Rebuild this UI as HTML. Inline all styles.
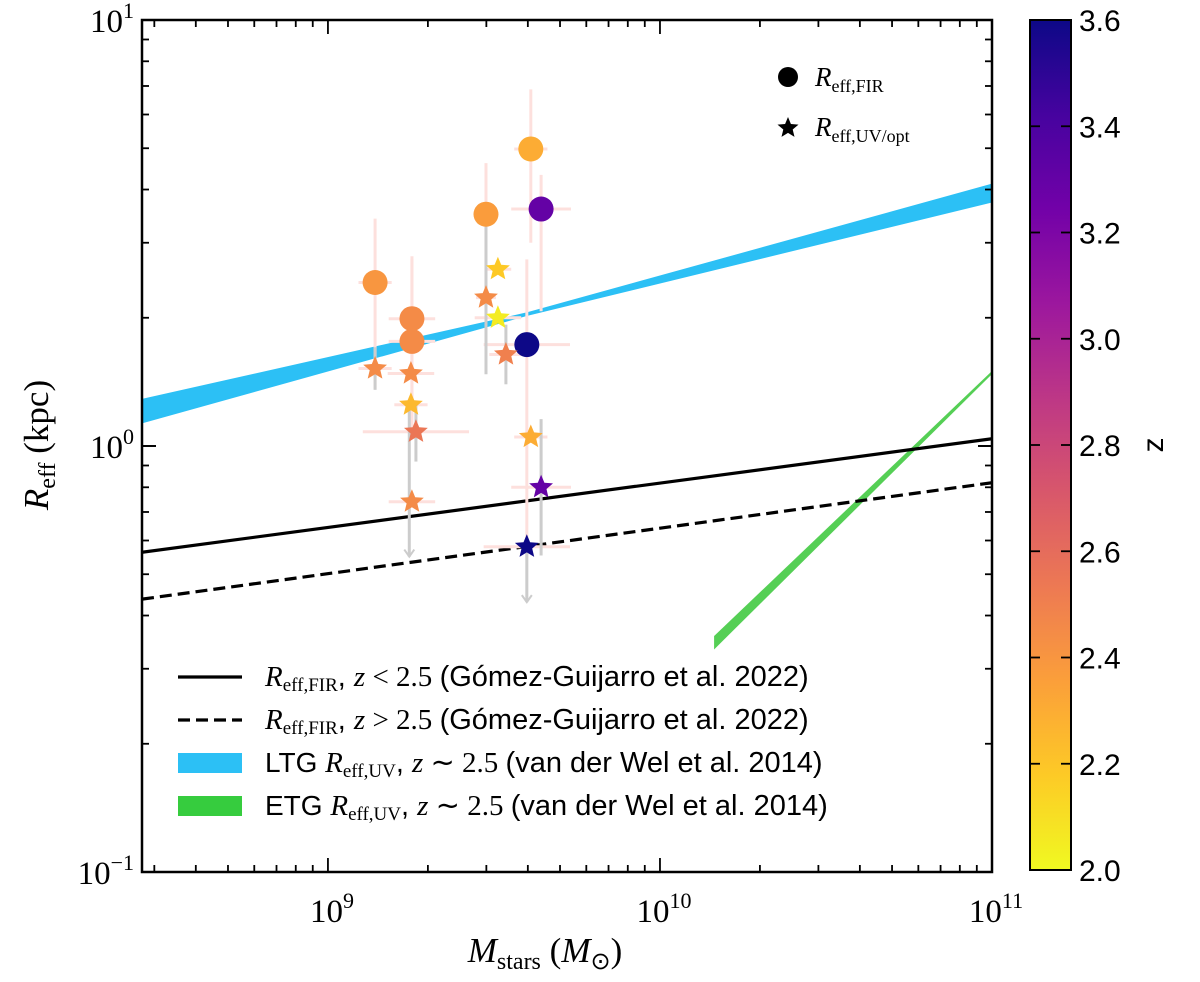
<!DOCTYPE html>
<html><head><meta charset="utf-8"><style>
body{margin:0;background:#fff;}
svg{display:block;}
.s{font-family:"Liberation Serif",serif;}
.a{font-family:"Liberation Sans",sans-serif;}
</style></head><body>
<svg id="c" width="1200" height="982" xmlns="http://www.w3.org/2000/svg"></svg>
<script>
// ---- data ----
const circleLogM = [9.142, 9.253, 9.253, 9.476, 9.611, 9.642, 9.599];
const circleR    = [2.42, 1.99, 1.76, 3.50, 4.98, 3.60, 1.73];
const circleZ    = [2.40, 2.45, 2.45, 2.37, 2.30, 3.30, 3.60];
const circleErrX = [0.05, 0.07, 0.07, 0.03, 0.05, 0.09, 0.13];
const circleErrLo= [0.25, 0.22, 0.22, 0.22, 0.22, 0.24, 0.50];
const circleErrHi= [0.15, 0.14, 0.20, 0.12, 0.14, 0.08, 0.20];
const starLogM = [9.142, 9.250, 9.250, 9.265, 9.253, 9.476, 9.512, 9.512, 9.536, 9.611, 9.642, 9.599];
const starR    = [1.52, 1.48, 1.25, 1.08, 0.74, 2.23, 2.60, 2.00, 1.64, 1.05, 0.80, 0.58];
const starZ    = [2.45, 2.45, 2.25, 2.55, 2.45, 2.45, 2.18, 2.05, 2.50, 2.30, 3.30, 3.60];
const starErrX = [0.05, 0.07, 0.05, 0.16, 0.07, 0.03, 0.04, 0.07, 0.05, 0.05, 0.09, 0.13];
const starLimit= [0.05, 0.00, 0.00, 0.07, 0.00, 0.18, 0.00, 0.00, 0.07, 0.00, 0.16, 0.00];
const arrowFrom= [0, 9.245, 0, 0, 0, 0, 0, 0, 0, 0, 0, 9.599];
const arrowTop = [0, 1.25, 0, 0, 0, 0, 0, 0, 0, 0, 0, 0.58];
const arrowBot = [0, 0.55, 0, 0, 0, 0, 0, 0, 0, 0, 0, 0.43];
const fitLogM = [8.44, 11];
const solidR  = [0.563, 1.04];
const dashR   = [0.437, 0.82];
const ltgLogM = [8.44, 9.6, 11];
const ltgLo   = [1.13, 2.02, 3.73];
const ltgHi   = [1.29, 2.06, 4.13];
const etgLogM = [10.163, 11];
const etgLo   = [0.333, 1.475];
const etgHi   = [0.358, 1.50];
const xTicks = [9, 10, 11];
const yTicks = [-1, 0, 1];
const cbTicks = [2.0, 2.2, 2.4, 2.6, 2.8, 3.0, 3.2, 3.4, 3.6];

// ---- axes ----
const L=142,R=992,T=20,B=872;
const xs=m=>L+(m-8.44)/(11-8.44)*(R-L);
const ys=r=>T+(1-Math.log10(r))/2*(B-T);
const NS="http://www.w3.org/2000/svg";
const svg=document.getElementById('c');
function el(t,a,p){const e=document.createElementNS(NS,t);for(const k in a)e.setAttribute(k,a[k]);(p||svg).appendChild(e);return e;}
const plasma=["#f0f921","#fdca26","#fb9f3a","#ed7953","#d8576b","#bd3786","#9c179e","#7201a8","#46039f","#0d0887"];
function zcol(z){let t=(z-2)/1.6*(plasma.length-1);t=Math.max(0,Math.min(plasma.length-1,t));const i=Math.floor(t),f=t-i;const a=plasma[i],b=plasma[Math.min(i+1,plasma.length-1)];
const h=(s,k)=>parseInt(s.substr(1+2*k,2),16);let o="#";for(let k=0;k<3;k++){o+=Math.round(h(a,k)*(1-f)+h(b,k)*f).toString(16).padStart(2,'0');}return o;}

const clip=el('clipPath',{id:'pc'});el('rect',{x:L,y:T,width:R-L,height:B-T},clip);
const g=el('g',{'clip-path':'url(#pc)'});

// bands
function band(m,lo,hi,col,name){let d="M"+m.map((v,i)=>xs(v)+","+ys(hi[i])).join("L");
for(let i=m.length-1;i>=0;i--)d+="L"+xs(m[i])+","+ys(lo[i]);d+="Z";
const p=el('path',{d:d,fill:col},g);}
band(ltgLogM,ltgLo,ltgHi,'#2cc0f5','ltg-band');
band(etgLogM,etgLo,etgHi,'#55cf55','etg-band');
let ln=el('line',{x1:xs(fitLogM[0]),y1:ys(solidR[0]),x2:xs(fitLogM[1]),y2:ys(solidR[1]),stroke:'#000','stroke-width':3.2},g);

ln=el('line',{x1:xs(fitLogM[0]),y1:ys(dashR[0]),x2:xs(fitLogM[1]),y2:ys(dashR[1]),stroke:'#000','stroke-width':3.2,'stroke-dasharray':'12,6'},g);


// error bars
function errs(lm,r,ex,lo,hi){for(let i=0;i<lm.length;i++){const x=xs(lm[i]),y=ys(r[i]);
el('line',{x1:xs(lm[i]-ex[i]),y1:y,x2:xs(lm[i]+ex[i]),y2:y,stroke:'#fde0dd','stroke-width':3},g);
if(hi)el('line',{x1:x,y1:ys(r[i]*Math.pow(10,hi[i])),x2:x,y2:ys(r[i]/Math.pow(10,lo[i])),stroke:'#fde0dd','stroke-width':3},g);}}
errs(circleLogM,circleR,circleErrX,circleErrLo,circleErrHi);
errs(starLogM,starR,starErrX,null,null);
for(let i=0;i<starLogM.length;i++){if(starLimit[i]>0){const x=xs(starLogM[i]);
el('line',{x1:x,y1:ys(starR[i]*Math.pow(10,starLimit[i])),x2:x,y2:ys(starR[i]/Math.pow(10,starLimit[i])),stroke:'#ccc','stroke-width':3},g);}
if(arrowFrom[i]>0){const x=xs(arrowFrom[i]);const y2=ys(arrowBot[i]);
el('line',{x1:x,y1:ys(arrowTop[i]),x2:x,y2:y2,stroke:'#ccc','stroke-width':3},g);
el('path',{d:`M${x-5},${y2-7}L${x},${y2}L${x+5},${y2-7}`,stroke:'#ccc','stroke-width':2,fill:'none'},g);}}

function starPath(cx,cy,ro){const ri=ro*0.45;let d="";for(let k=0;k<10;k++){const a=-Math.PI/2+k*Math.PI/5;const rr=k%2?ri:ro;d+=(k?"L":"M")+(cx+rr*Math.cos(a)).toFixed(1)+","+(cy+rr*Math.sin(a)).toFixed(1);}return d+"Z";}
for(let i=0;i<circleLogM.length;i++){const c=el('circle',{cx:xs(circleLogM[i]),cy:ys(circleR[i]),r:12.5,fill:zcol(circleZ[i])},g);
}
for(let i=0;i<starLogM.length;i++){const s=el('path',{d:starPath(xs(starLogM[i]),ys(starR[i]),12.5),fill:zcol(starZ[i])},g);
}

// frame & ticks
const fr=el('rect',{x:L,y:T,width:R-L,height:B-T,fill:'none',stroke:'#000','stroke-width':2.5});

for(let d=8;d<=10;d++)for(let k=1;k<10;k++){const m=d+Math.log10(k);if(m<8.44||m>11)continue;const x=xs(m);const len=k==1?14:7;
el('line',{x1:x,y1:B,x2:x,y2:B-len,stroke:'#000','stroke-width':1.8});el('line',{x1:x,y1:T,x2:x,y2:T+len,stroke:'#000','stroke-width':1.8});}
for(let d=-1;d<=0;d++)for(let k=1;k<=10;k++){const v=Math.pow(10,d)*k;const y=ys(v);const len=(k==1||k==10)?14:7;
el('line',{x1:L,y1:y,x2:L+len,y2:y,stroke:'#000','stroke-width':1.8});el('line',{x1:R,y1:y,x2:R-len,y2:y,stroke:'#000','stroke-width':1.8});}
function pow10(x,y,e,anchor,name){const t=el('text',{x:x,y:y,'text-anchor':anchor,'font-size':33,class:'s'});t.innerHTML=`10<tspan dy="-14" font-size="22">${e}</tspan>`;
}
xTicks.forEach(v=>pow10(xs(v)+4,922,v,'middle','x-tick-label'));
yTicks.forEach(v=>pow10(L-8,ys(Math.pow(10,v))+12,v==-1?'−1':v,'end','y-tick-label'));

let t=el('text',{x:545,y:962,'text-anchor':'middle','font-size':35,class:'s'});
t.innerHTML='<tspan font-style="italic">M</tspan><tspan font-size="24" dy="7">stars</tspan><tspan dy="-7"> (</tspan><tspan font-style="italic">M</tspan><tspan font-size="24" dy="7">⊙</tspan><tspan dy="-7">)</tspan>';

t=el('text',{x:0,y:0,'text-anchor':'middle','font-size':35,class:'s',transform:'translate(48,445) rotate(-90)'});
t.innerHTML='<tspan font-style="italic">R</tspan><tspan font-size="24" dy="7">eff</tspan><tspan dy="-7"> (kpc)</tspan>';


// top-right legend
let c=el('circle',{cx:788,cy:77,r:10,fill:'#000'});
c=el('path',{d:starPath(788,128,11),fill:'#000'});
t=el('text',{x:815,y:86,'font-size':27,class:'s'});t.innerHTML='<tspan font-style="italic">R</tspan><tspan font-size="18" dy="6">eff,FIR</tspan>';

t=el('text',{x:815,y:136,'font-size':27,class:'s'});t.innerHTML='<tspan font-style="italic">R</tspan><tspan font-size="18" dy="6">eff,UV/opt</tspan>';


// bottom legend
const legRows=[
 {y:677,type:'solid',lab:'FIR',rest:', <tspan class="s" font-style="italic">z</tspan><tspan class="s"> &lt; 2.5 </tspan>(Gómez-Guijarro et al. 2022)',pre:''},
 {y:720,type:'dash',lab:'FIR',rest:', <tspan class="s" font-style="italic">z</tspan><tspan class="s"> &gt; 2.5 </tspan>(Gómez-Guijarro et al. 2022)',pre:''},
 {y:763,type:'#2cc0f5',lab:'UV',rest:', <tspan class="s" font-style="italic">z</tspan><tspan class="s"> ∼ 2.5 </tspan>(van der Wel et al. 2014)',pre:'LTG '},
 {y:806,type:'#36cc3e',lab:'UV',rest:', <tspan class="s" font-style="italic">z</tspan><tspan class="s"> ∼ 2.5 </tspan>(van der Wel et al. 2014)',pre:'ETG '}];
legRows.forEach(r=>{let m;
 if(r.type=='solid')m=el('line',{x1:178,y1:r.y,x2:242,y2:r.y,stroke:'#000','stroke-width':3.2});
 else if(r.type=='dash')m=el('line',{x1:178,y1:r.y,x2:242,y2:r.y,stroke:'#000','stroke-width':3.2,'stroke-dasharray':'12,6'});
 else m=el('rect',{x:178,y:r.y-10,width:64,height:20,fill:r.type});
 
 const tx=el('text',{x:265,y:r.y+9,'font-size':28,class:'a'});
 tx.innerHTML=r.pre+'<tspan class="s" font-style="italic" font-size="29">R</tspan><tspan class="s" font-size="19" dy="5">eff,'+r.lab+'</tspan><tspan dy="-5" font-size="29">'+r.rest+'</tspan>';
 });

// colorbar
const defs=el('defs',{});const lg=el('linearGradient',{id:'cb',x1:0,y1:1,x2:0,y2:0},defs);
plasma.forEach((col,i)=>el('stop',{offset:i/(plasma.length-1),'stop-color':col},lg));
const cb=el('rect',{x:1030,y:20,width:41,height:850,fill:'url(#cb)',stroke:'#000','stroke-width':2});

cbTicks.forEach(v=>{const y=870-(v-2)/1.6*850;
 el('line',{x1:1030,y1:y,x2:1040,y2:y,stroke:'#000','stroke-width':1.8});el('line',{x1:1071,y1:y,x2:1061,y2:y,stroke:'#000','stroke-width':1.8});
 const tt=el('text',{x:1079,y:y+11,'font-size':30,class:'a'});tt.textContent=v.toFixed(1);
 });
t=el('text',{x:0,y:0,'text-anchor':'middle','font-size':30,class:'a',transform:'translate(1163,445) rotate(-90)'});t.textContent='z';

</script>
</body></html>
